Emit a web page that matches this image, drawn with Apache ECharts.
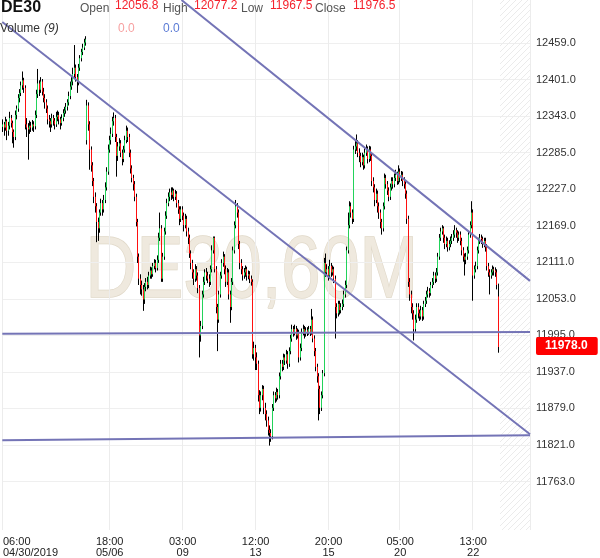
<!DOCTYPE html>
<html><head><meta charset="utf-8">
<script src="https://cdn.jsdelivr.net/npm/echarts@6/dist/echarts.min.js"></script>
<style>html,body{margin:0;padding:0;background:#fff}#c{width:600px;height:558px}</style>
</head><body><div id="c"></div>
<script>
// ---- data (hourly DE30 bars) ----
const closes = [12330,12325,12335,12320,12328,12340,12332,12318,12310,12345,12355,12372,12380,12392,12400,12388,12330,12325,12322,12328,
12325,12330,12327,12345,12378,12395,12385,12398,12382,12372,12365,12355,12338,12335,12330,12340,12336,12330,12342,12345,
12338,12332,12340,12348,12352,12358,12365,12375,12390,12398,12410,12420,12405,12398,12420,12435,12445,12452,12460,12465,
12360,12330,12290,12265,12240,12215,12200,12175,12165,12190,12205,12195,12210,12230,12255,12290,12305,12315,12335,12340,
12310,12280,12295,12300,12285,12275,12290,12305,12320,12310,12285,12260,12245,12235,12215,12175,12120,12085,12075,12068,
12052,12072,12080,12075,12090,12098,12092,12105,12110,12102,12115,12150,12165,12085,12120,12160,12185,12205,12215,12222,
12218,12225,12215,12220,12205,12195,12180,12195,12185,12170,12180,12160,12150,12125,12110,12095,12085,12100,12090,12070,
11995,12010,12060,12080,12095,12090,12085,12080,12100,12130,12150,12100,12040,12020,12060,12090,12110,12120,12100,12080,
12095,12060,12040,12080,12130,12170,12200,12190,12140,12110,12100,12090,12095,12100,12090,12092,12085,12080,11965,11975,
11960,11950,11900,11880,11900,11910,11880,11870,11860,11845,11840,11835,11880,11900,11895,11905,11900,11930,11950,11945,
11960,11955,11965,11950,11970,11990,12005,12000,12005,11995,12000,11960,11975,12000,12005,11998,12003,12000,12005,12000,
12020,11990,11970,11945,11930,11910,11880,11900,11935,12110,12095,12100,12090,12105,12095,12100,12085,12040,12030,12045,
12035,12040,12045,12060,12075,12130,12170,12200,12190,12180,12290,12295,12300,12285,12280,12270,12278,12265,12285,12290,
12275,12290,12280,12240,12230,12210,12220,12200,12190,12175,12165,12200,12245,12235,12225,12215,12230,12240,12235,12245,
12250,12240,12255,12245,12250,12240,12235,12220,12180,12080,12060,12040,12030,12005,12020,12040,12030,12025,12035,12025,
12045,12050,12060,12065,12062,12075,12080,12090,12085,12095,12120,12150,12160,12165,12150,12140,12145,12135,12140,12145,
12150,12155,12162,12158,12150,12155,12145,12130,12120,12115,12120,12130,12155,12170,12190,12090,12100,12105,12130,12145,
12150,12148,12140,12145,12135,12105,12095,12090,12095,12100,12098,12095,12075,11976.5];
const highs = [12338,12334,12342,12338,12334,12350,12345,12336,12322,12352,12360,12378,12386,12398,12414,12404,12392,12340,12332,12336,
12334,12337,12335,12352,12385,12418,12400,12405,12402,12388,12378,12370,12360,12345,12340,12347,12345,12340,12350,12352,
12350,12342,12346,12354,12358,12364,12370,12382,12398,12405,12420,12456,12425,12410,12426,12440,12450,12458,12466,12470,
12369,12365,12335,12295,12270,12245,12222,12205,12182,12195,12212,12210,12218,12238,12262,12298,12312,12325,12342,12349,
12345,12315,12302,12308,12305,12290,12296,12312,12328,12325,12315,12290,12265,12250,12240,12220,12180,12125,12092,12082,
12075,12078,12086,12088,12096,12104,12103,12110,12116,12115,12122,12158,12190,12170,12126,12166,12192,12212,12222,12228,
12230,12230,12228,12226,12224,12210,12200,12200,12200,12190,12188,12185,12166,12155,12130,12115,12100,12108,12105,12095,
12075,12018,12066,12088,12100,12102,12096,12092,12106,12138,12152,12152,12105,12045,12066,12096,12116,12128,12124,12106,
12102,12100,12066,12086,12136,12176,12210,12205,12195,12145,12116,12105,12102,12106,12104,12098,12097,12090,12084,11985,
11980,11968,11955,11908,11906,11916,11915,11888,11876,11866,11852,11846,11886,11906,11905,11912,11910,11936,11956,11956,
11966,11965,11972,11970,11976,11996,12012,12010,12012,12010,12006,12004,11982,12006,12012,12010,12008,12008,12010,12010,
12037,12025,11995,11975,11950,11935,11915,11906,11940,12118,12125,12108,12105,12115,12110,12106,12104,12090,12046,12050,
12050,12046,12052,12066,12082,12136,12190,12208,12206,12195,12296,12305,12314,12305,12292,12285,12285,12282,12292,12298,
12295,12296,12295,12284,12246,12235,12228,12225,12206,12195,12180,12206,12252,12250,12240,12230,12236,12246,12246,12252,
12258,12255,12265,12260,12256,12255,12246,12240,12225,12185,12086,12066,12046,12035,12028,12046,12046,12036,12042,12040,
12050,12056,12066,12072,12070,12080,12086,12096,12095,12102,12126,12156,12166,12170,12168,12155,12152,12150,12146,12152,
12156,12162,12170,12166,12162,12160,12160,12150,12135,12125,12126,12136,12160,12176,12208,12195,12106,12112,12136,12150,
12156,12155,12152,12150,12150,12140,12110,12100,12100,12106,12104,12103,12100,12077.2];
const lows = [12318,12312,12320,12305,12312,12322,12325,12300,12293,12305,12338,12350,12365,12375,12385,12380,12322,12310,12274,12315,
12318,12320,12318,12322,12340,12372,12375,12380,12376,12365,12355,12348,12330,12325,12318,12325,12328,12322,12326,12335,
12330,12322,12328,12335,12342,12347,12352,12360,12370,12385,12392,12402,12398,12380,12392,12415,12430,12440,12448,12455,
12298,12320,12258,12255,12232,12205,12190,12143,12145,12158,12185,12185,12190,12205,12225,12250,12285,12298,12310,12328,
12302,12247,12272,12288,12278,12265,12270,12285,12300,12302,12278,12252,12238,12225,12208,12168,12110,12075,12060,12058,
12034,12045,12065,12068,12070,12085,12085,12088,12100,12095,12098,12110,12145,12080,12080,12115,12155,12180,12200,12208,
12210,12212,12208,12210,12198,12188,12170,12175,12178,12160,12165,12152,12140,12118,12100,12085,12075,12080,12082,12062,
11960,11985,12005,12055,12075,12082,12078,12072,12075,12095,12125,12095,12030,11970,12015,12055,12085,12104,12092,12072,
12075,12052,12015,12035,12075,12125,12165,12182,12132,12100,12092,12082,12085,12088,12082,12084,12078,12074,11958,11955,
11940,11940,11890,11870,11874,11892,11870,11860,11850,11836,11820,11826,11830,11875,11888,11890,11893,11895,11925,11938,
11940,11948,11950,11942,11945,11965,11985,11993,11995,11988,11990,11952,11955,11970,11995,11990,11993,11994,11996,11994,
11996,11984,11962,11938,11920,11860,11870,11875,11895,11930,12088,12090,12082,12085,12088,12090,12078,11990,12022,12025,
12028,12030,12035,12040,12055,12070,12125,12165,12182,12172,12175,12283,12288,12278,12270,12262,12265,12258,12260,12280,
12268,12270,12272,12232,12222,12200,12205,12190,12180,12165,12155,12160,12195,12228,12218,12208,12210,12225,12228,12230,
12240,12234,12235,12238,12240,12232,12228,12212,12172,12072,12050,12030,12020,11987,12000,12015,12022,12018,12020,12018,
12020,12040,12045,12055,12055,12058,12070,12075,12078,12080,12090,12115,12145,12155,12142,12132,12135,12128,12130,12135,
12140,12145,12150,12150,12142,12145,12138,12122,12112,12090,12108,12115,12125,12150,12165,12050,12085,12095,12100,12125,
12140,12140,12134,12135,12128,12098,12088,12060,12085,12090,12090,12088,12068,11967.5];
const firstOpen = 12326;
const gapOpens = [[60, 12305], [353, 12056.8]];
const totalSlots = 376;               // bars + empty future slots
const tickIndex = [0, 76, 128, 180, 232, 283, 335];
const tickText = ['06:00\n04/30/2019', '18:00\n05/06', '03:00\n09', '12:00\n13', '20:00\n15', '05:00\n20', '13:00\n22'];
const yTicks = [11763, 11821, 11879, 11937, 11995, 12053, 12111, 12169, 12227, 12285, 12343, 12401, 12459];
const lastPrice = 11978.0;
// trend lines: [bar position, price]
const trendUpper = [[127.7, 12527.5], [376, 12081.5]];
const trendLower = [[0, 12492.7], [376, 11838.0]];
const supportMid = [[0, 11997.5], [376, 12000.5]];
const supportLow = [[0, 11828.5], [376, 11836.4]];

// ---- build ----
const opens = closes.map((c, i) => i === 0 ? firstOpen : closes[i - 1]);
gapOpens.forEach(([i, v]) => { opens[i] = v; });
const cats = Array.from({length: totalSlots}, (_, i) => String(i));
const full = closes.map((c, i) => [opens[i], c, lows[i], highs[i]]);
const bodies = closes.map((c, i) => [opens[i], c, Math.min(opens[i], c), Math.max(opens[i], c)]);
const n = closes.length - 1;

const pat = document.createElement('canvas');
pat.width = 6; pat.height = 6;
const pc = pat.getContext('2d');
pc.strokeStyle = '#ebebeb'; pc.lineWidth = 1;
pc.beginPath(); pc.moveTo(0, 6); pc.lineTo(6, 0); pc.moveTo(-1, 1); pc.lineTo(1, -1); pc.moveTo(5, 7); pc.lineTo(7, 5); pc.stroke();

const isTick = (i) => tickIndex.indexOf(i) >= 0;
const lineStyle = {color: '#7474b6', width: 2};
function trend(d) {
  return {type: 'line', xAxisIndex: 1, data: d, symbol: 'none', silent: true, lineStyle, z: 5, animation: false};
}
const fmt = v => v.toFixed(1);
const FF = '"Liberation Sans", Arial';

const chart = echarts.init(document.getElementById('c'), null, {renderer: 'canvas'});
chart.setOption({
  animation: false,
  grid: {left: 0, top: 0, right: 70, bottom: 26},
  xAxis: [{
    type: 'category', data: cats, boundaryGap: true,
    axisLine: {show: false}, axisTick: {show: false},
    axisLabel: {interval: (i) => isTick(i), formatter: (v, i) => tickText[tickIndex.indexOf(i)] || '',
      fontSize: 11, color: '#222', lineHeight: 11, margin: 6, alignMinLabel: 'left', fontFamily: FF},
    splitLine: {show: true, interval: (i) => isTick(i), lineStyle: {color: '#ececec', width: 1}}
  }, {
    type: 'value', min: 0, max: totalSlots, show: false
  }],
  yAxis: {
    type: 'value', position: 'right', min: 11686, max: 12527.5, scale: true,
    axisLine: {show: false},
    axisTick: {show: false, customValues: yTicks},
    axisLabel: {customValues: yTicks, formatter: fmt, fontSize: 11, color: '#333', margin: 6, fontFamily: FF},
    splitLine: {show: true, lineStyle: {color: '#efefef'}}
  },
  graphic: [
    {type: 'text', left: 85, top: 228, z: -10, silent: true, scaleX: 0.8,
      style: {text: 'DE30,60M', font: '88px ' + FF, fill: '#efe9de', stroke: '#e0d8c8', lineWidth: 1.5}},
    {type: 'text', left: 1, top: 0, z: 100, style: {text: 'DE30', font: 'bold 16px ' + FF, fill: '#111'}},
    {type: 'text', left: 80, top: 3, z: 100, style: {text: 'Open', font: '12px ' + FF, fill: '#555'}},
    {type: 'text', left: 115, top: 0, z: 100, style: {text: fmt(opens[n]), font: '12px ' + FF, fill: '#f5222d'}},
    {type: 'text', left: 163, top: 3, z: 100, style: {text: 'High', font: '12px ' + FF, fill: '#555'}},
    {type: 'text', left: 194, top: 0, z: 100, style: {text: fmt(highs[n]), font: '12px ' + FF, fill: '#f5222d'}},
    {type: 'text', left: 241, top: 3, z: 100, style: {text: 'Low', font: '12px ' + FF, fill: '#555'}},
    {type: 'text', left: 270, top: 0, z: 100, style: {text: fmt(lows[n]), font: '12px ' + FF, fill: '#f5222d'}},
    {type: 'text', left: 315, top: 3, z: 100, style: {text: 'Close', font: '12px ' + FF, fill: '#555'}},
    {type: 'text', left: 353, top: 0, z: 100, style: {text: fmt(closes[n]), font: '12px ' + FF, fill: '#f5222d'}},
    {type: 'text', left: 0, top: 23, z: 100, style: {text: 'Volume', font: '12px ' + FF, fill: '#333'}},
    {type: 'text', left: 44, top: 23, z: 100, style: {text: '(9)', font: 'italic 12px ' + FF, fill: '#333'}},
    {type: 'text', left: 118, top: 23, z: 100, style: {text: '0.0', font: '12px ' + FF, fill: '#f7a1a1'}},
    {type: 'text', left: 163, top: 23, z: 100, style: {text: '0.0', font: '12px ' + FF, fill: '#5b7bd5'}}
  ],
  series: [
    {
      type: 'candlestick', data: full, barWidth: 1, z: 2,
      itemStyle: {color: '#000', color0: '#000', borderColor: '#000', borderColor0: '#000', borderWidth: 1}
    },
    {
      type: 'candlestick', data: bodies, barWidth: 0.5, z: 3,
      itemStyle: {color: '#22d35a', color0: '#ff1010', borderColor: '#22d35a', borderColor0: '#ff1010', borderWidth: 1}
    },
    Object.assign(trend(trendUpper), {
      markArea: {silent: true, itemStyle: {color: {image: pat, repeat: 'repeat'}},
        data: [[{xAxis: closes.length + 0.6, yAxis: 11686}, {xAxis: totalSlots, yAxis: 12527.5}]]}
    }),
    trend(trendLower),
    Object.assign(trend(supportMid), {
      markLine: {
        silent: true, symbol: 'none', animation: false,
        lineStyle: {color: 'rgba(0,0,0,0)', width: 0},
        label: {show: true, position: 'end', distance: 6, formatter: fmt(lastPrice), color: '#fff',
          fontWeight: 'bold', fontSize: 12, backgroundColor: '#ff0000', padding: [3, 10, 3, 9], borderRadius: 2,
          fontFamily: FF},
        data: [{yAxis: lastPrice}]
      }
    }),
    trend(supportLow)
  ]
});
</script></body></html>
